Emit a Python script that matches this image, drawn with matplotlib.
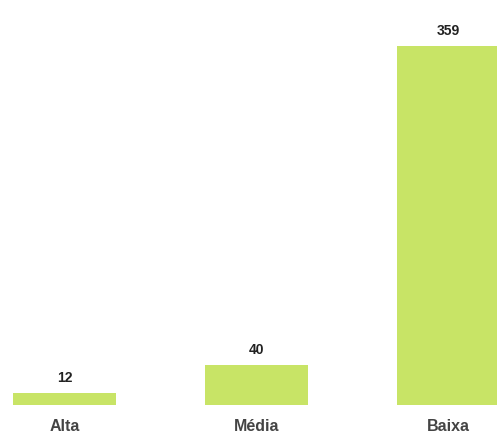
import matplotlib
matplotlib.use('Agg')
import matplotlib.pyplot as plt

categories = ['Alta', 'Média', 'Baixa']
values = [12, 40, 359]

plt.rcParams['font.family'] = ['Liberation Sans', 'DejaVu Sans']

fig = plt.figure(figsize=(4.97, 4.39), dpi=100)
ax = fig.add_axes([0, 0, 1, 1])
x = list(range(len(categories)))
bars = ax.bar(x, values, width=0.54, color='#c8e466', edgecolor='none')

for xi, v in zip(x, values):
    ax.text(xi, v + 9, str(v), ha='center', va='bottom', fontsize=10,
            fontweight='bold', color='#222222')
for xi, c in zip(x, categories):
    ax.text(xi, -21, c, ha='center', va='center', fontsize=11.5,
            fontweight='bold', color='#444444')

ax.set_xlim(-0.336, 2.253)
ax.set_ylim(-33, 406)
ax.axis('off')
fig.savefig('out.png', dpi=100, facecolor='white')
